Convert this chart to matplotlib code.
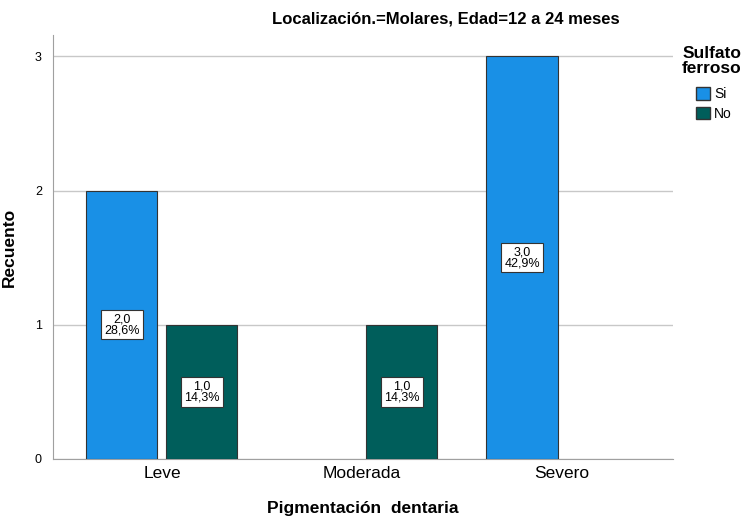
import numpy as np
import matplotlib
matplotlib.use("Agg")
import matplotlib.pyplot as plt
from matplotlib.patches import Patch

plt.rcParams['font.family'] = ['Liberation Sans', 'DejaVu Sans']

categories = ['Leve', 'Moderada', 'Severo']
si_counts = [2, 0, 3]
no_counts = [1, 1, 0]
si_pct = ['28,6%', '', '42,9%']
no_pct = ['14,3%', '14,3%', '']

color_si = '#1990E6'
color_no = '#005E5B'

fig = plt.figure(figsize=(7.43, 5.22), dpi=100)
ax = fig.add_axes([0.0713, 0.1207, 0.8345, 0.8123])

x = np.arange(len(categories))
w = 0.355
off = 0.2

def draw(xs, vals, pcts, color):
    for xi, v, p in zip(xs, vals, pcts):
        if v == 0:
            continue
        ax.bar(xi, v, width=w, color=color, edgecolor='#333333', linewidth=0.8, zorder=3)
        ax.text(xi, v / 2, '{:.1f}'.format(v).replace('.', ',') + '\n' + p,
                ha='center', va='center', fontsize=9, linespacing=0.9, zorder=4,
                bbox=dict(boxstyle='square,pad=0.25', fc='white', ec='#333333', lw=0.8))

draw(x - off, si_counts, si_pct, color_si)
draw(x + off, no_counts, no_pct, color_no)

ax.set_xlim(-0.545, 2.555)
ax.set_ylim(0, 3.16)
ax.set_yticks([0, 1, 2, 3])
ax.set_xticks(x)
ax.set_xticklabels(categories, fontsize=12.5)
ax.tick_params(axis='y', labelsize=9, length=0, pad=8)
ax.tick_params(axis='x', length=0, pad=5)
ax.grid(axis='y', color='#c8c8c8', linewidth=1, zorder=0)
for s in ['top', 'right']:
    ax.spines[s].set_visible(False)
for s in ['left', 'bottom']:
    ax.spines[s].set_color('#a0a0a0')

ax.set_ylabel('Recuento', fontsize=12.5, fontweight='bold')
ax.yaxis.set_label_coords(-0.058, 0.5)
ax.set_xlabel('Pigmentación  dentaria', fontsize=12.5, fontweight='bold')
ax.xaxis.set_label_coords(0.5, -0.098)
fig.text(0.6, 0.963, 'Localización.=Molares, Edad=12 a 24 meses', ha='center', va='center',
         fontsize=12, fontweight='bold')

fig.text(0.958, 0.883, 'Sulfato\nferroso', ha='center', va='center',
         fontsize=12.5, fontweight='bold', linespacing=1.0)
handles = [Patch(facecolor=color_si, edgecolor='#333333', label='Si'),
           Patch(facecolor=color_no, edgecolor='#333333', label='No')]
fig.legend(handles=handles, loc='upper left', bbox_to_anchor=(0.937, 0.833),
           frameon=False, fontsize=10, borderpad=0, borderaxespad=0,
           handlelength=1.0, handleheight=1.0, handletextpad=0.3, labelspacing=0.4)

fig.savefig('out.png', dpi=100)
